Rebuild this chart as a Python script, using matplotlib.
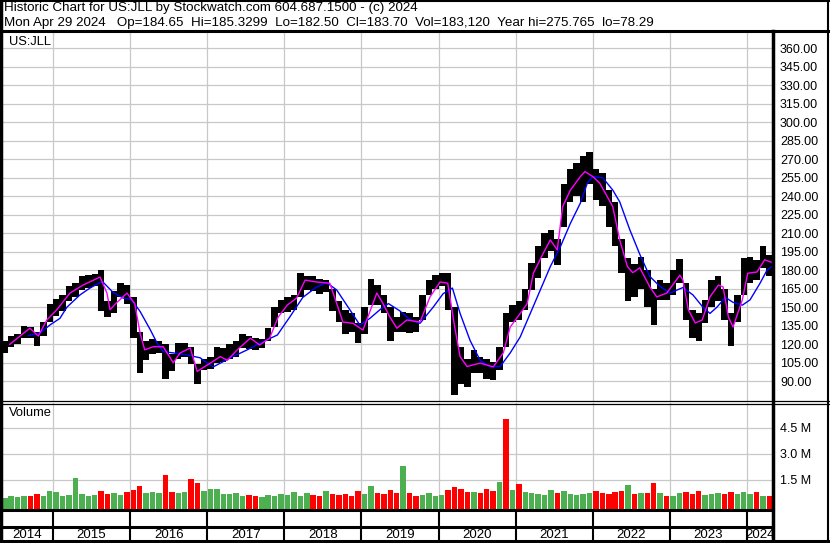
import matplotlib
matplotlib.use('Agg')
import matplotlib.pyplot as plt
import numpy as np
import pandas as pd

plt.rcParams['font.family'] = ['Liberation Sans', 'DejaVu Sans']

# monthly bars, May 2014 .. Apr 2024
months = pd.date_range('2014-05-01', periods=120, freq='MS')

price_lo = [113, 118, 120, 125, 125, 119, 127, 138,
            143, 147, 155, 158, 164, 166, 167, 147, 142, 145, 158, 153,
            125, 97, 107, 112, 113, 92, 98, 108, 110, 104, 88, 99,
            100, 105, 106, 108, 110, 117, 116, 115, 117, 123, 134, 145,
            146, 148, 158, 164, 163, 161, 162, 147, 138, 128, 130, 121,
            128, 152, 152, 145, 123, 130, 130, 129, 130, 140, 160, 165,
            167, 148, 79, 88, 85, 97, 97, 92, 91, 99, 118, 138,
            140, 148, 164, 174, 190, 196, 184, 215, 235, 240, 235, 250,
            237, 232, 215, 200, 178, 155, 158, 165, 150, 136, 156, 156,
            160, 170, 140, 125, 123, 137, 150, 155, 140, 119, 138, 160,
            170, 172, 182, 175]
price_hi = [123, 127, 128, 135, 134, 130, 138, 153,
            157, 160, 167, 170, 175, 176, 177, 180, 155, 163, 170, 168,
            158, 130, 123, 124, 123, 120, 112, 121, 121, 118, 104, 108,
            110, 118, 117, 120, 123, 128, 127, 125, 124, 133, 150, 156,
            158, 160, 178, 175, 175, 173, 172, 165, 155, 148, 145, 137,
            150, 173, 168, 160, 150, 142, 146, 145, 142, 160, 172, 176,
            178, 178, 150, 118, 108, 115, 110, 108, 106, 118, 145, 152,
            155, 165, 186, 200, 210, 213, 205, 250, 262, 267, 273, 276,
            262, 259, 245, 235, 205, 190, 185, 191, 180, 165, 172, 170,
            180, 189, 170, 148, 145, 156, 172, 175, 165, 145, 160, 190,
            191, 188, 200, 192]

# volume in millions, and whether the bar is an up (green) or down (red) bar
volume_m = [0.45, 0.55, 0.5, 0.6, 0.55, 0.7, 0.55, 0.85,
            0.8, 0.6, 0.65, 1.6, 0.7, 0.6, 0.65, 0.85, 0.7, 0.75, 0.65, 0.8,
            0.95, 1.15, 0.75, 0.8, 0.75, 1.8, 0.8, 0.75, 0.8, 1.55, 1.3, 0.85,
            1.0, 1.0, 0.7, 0.7, 0.75, 0.6, 0.65, 0.6, 0.5, 0.65, 0.6, 0.7,
            0.65, 0.8, 0.6, 0.75, 0.65, 0.6, 0.85, 0.7, 0.65, 0.7, 0.6, 0.85,
            0.7, 1.15, 0.75, 0.7, 0.9, 0.75, 2.3, 0.75, 0.6, 0.65, 0.75, 0.6,
            0.65, 0.9, 1.1, 1.0, 0.8, 0.8, 0.75, 1.0, 0.85, 1.4, 5.0, 0.9,
            1.25, 0.8, 0.75, 0.7, 0.65, 0.9, 0.75, 0.85, 0.7, 0.65, 0.7, 0.75,
            0.85, 0.75, 0.7, 0.8, 0.85, 1.2, 0.7, 0.75, 0.75, 1.3, 0.75, 0.55,
            0.6, 0.75, 0.8, 0.7, 0.85, 0.65, 0.7, 0.75, 0.7, 0.8, 0.7, 0.8,
            0.7, 0.8, 0.6, 0.55]
vol_up = [1, 1, 1, 1, 0, 0, 1, 1,
          1, 1, 1, 1, 1, 1, 1, 0, 0, 1, 1, 0,
          0, 0, 1, 1, 1, 0, 0, 1, 1, 0, 0, 1,
          1, 1, 1, 1, 1, 1, 0, 0, 1, 1, 1, 1,
          1, 1, 1, 1, 0, 0, 1, 0, 0, 0, 0, 0,
          1, 1, 0, 0, 0, 0, 1, 0, 0, 1, 1, 1,
          1, 0, 0, 0, 0, 1, 0, 0, 0, 1, 0, 1,
          0, 1, 1, 1, 1, 1, 0, 1, 1, 1, 1, 1,
          0, 0, 0, 0, 0, 1, 0, 1, 0, 0, 1, 0,
          1, 1, 0, 0, 0, 1, 1, 1, 0, 0, 1, 1,
          1, 0, 1, 0]

# short moving average (magenta)
ma_short_t = [2014.44, 2014.70, 2014.81, 2014.92, 2015.05, 2015.22, 2015.39, 2015.61,
              2015.70, 2015.74, 2015.83, 2015.96, 2016.06, 2016.13, 2016.19, 2016.30,
              2016.43, 2016.56, 2016.65, 2016.78, 2016.87, 2017.04, 2017.17, 2017.26,
              2017.39, 2017.56, 2017.68, 2017.81, 2017.92, 2018.04, 2018.16, 2018.27,
              2018.42, 2018.59, 2018.68, 2018.76, 2018.89, 2019.02, 2019.20, 2019.28,
              2019.37, 2019.46, 2019.59, 2019.76, 2019.89, 2020.02, 2020.12, 2020.21,
              2020.28, 2020.37, 2020.54, 2020.71, 2020.84, 2020.93, 2021.06, 2021.15,
              2021.23, 2021.36, 2021.45, 2021.54, 2021.61, 2021.71, 2021.84, 2021.90,
              2022.00, 2022.09, 2022.19, 2022.26, 2022.35, 2022.45, 2022.52, 2022.61,
              2022.74, 2022.83, 2022.96, 2023.13, 2023.17, 2023.24, 2023.33, 2023.42,
              2023.52, 2023.63, 2023.69, 2023.76, 2023.82, 2023.94, 2024.01, 2024.13,
              2024.23, 2024.34]
ma_short = [120, 133, 126.7, 139.7, 148, 161.5, 168, 174.5,
            161.5, 148, 154, 161.5, 153, 129, 115.5, 118,
            118, 105, 113, 117, 98, 104.7, 110, 107,
            115.5, 125, 119.4, 125, 142, 151.8, 157.5, 172,
            170.5, 169.5, 153, 138, 137, 131.5, 161.5, 153,
            142, 133, 139.7, 138, 158.4, 170.5, 169.5, 134,
            110, 102, 104.7, 101.7, 113, 134, 145, 153,
            177.6, 194, 204.6, 196.5, 231.6, 245, 256, 260,
            256, 250.7, 239.5, 231.6, 204.6, 183, 178, 182,
            166.6, 158.4, 161.5, 176, 172, 148, 137.3, 139.7,
            158.4, 168, 166.6, 142, 134, 156, 177.6, 178.6,
            188.5, 186]

# long moving average (blue)
ma_long_t = [2014.68, 2014.83, 2014.96, 2015.09, 2015.18, 2015.35, 2015.48, 2015.64,
             2015.78, 2015.91, 2016.02, 2016.13, 2016.26, 2016.35, 2016.43, 2016.56,
             2016.74, 2016.91, 2016.95, 2017.08, 2017.30, 2017.52, 2017.72, 2017.91,
             2018.07, 2018.24, 2018.42, 2018.55, 2018.68, 2018.85, 2018.98, 2019.11,
             2019.24, 2019.35, 2019.50, 2019.63, 2019.76, 2019.93, 2020.06, 2020.18,
             2020.28, 2020.41, 2020.54, 2020.67, 2020.80, 2020.93, 2021.06, 2021.19,
             2021.32, 2021.45, 2021.58, 2021.71, 2021.84, 2021.93, 2022.00, 2022.13,
             2022.26, 2022.35, 2022.48, 2022.61, 2022.74, 2022.87, 2023.00, 2023.17,
             2023.30, 2023.43, 2023.52, 2023.61, 2023.72, 2023.82, 2023.94, 2024.04,
             2024.17, 2024.26, 2024.34]
ma_long = [127, 129, 135.6, 141, 150, 160, 165.6, 171,
           162, 157.5, 156, 146.6, 132, 121, 114, 113,
           111.3, 109, 107, 101.7, 109, 115.5, 122, 127.5,
           142, 158, 166.5, 170, 164, 148, 135.6, 141,
           148, 153, 147, 140, 137, 150, 161, 165.6,
           145, 123, 107, 101.7, 102, 113, 126, 145,
           164, 183, 199, 218, 234.5, 250.7, 256, 255,
           245, 235.5, 213, 193, 175, 167, 161.5, 166,
           160, 150, 145, 150, 158, 154, 151.7, 156,
           169.5, 180, 184]

price_ticks = [90, 105, 120, 135, 150, 165, 180, 195, 210, 225, 240,
               255, 270, 285, 300, 315, 330, 345, 360]
vol_ticks = [1.5, 3.0, 4.5]
years = [2014, 2015, 2016, 2017, 2018, 2019, 2020, 2021, 2022, 2023, 2024]

header1 = 'Historic Chart for US:JLL by Stockwatch.com 604.687.1500 - (c) 2024'
header2 = ('Mon Apr 29 2024   Op=184.65  Hi=185.3299  Lo=182.50  Cl=183.70  '
           'Vol=183,120  Year hi=275.765  lo=78.29')

t = np.array(months.year + (months.month - 0.5) / 12)
lo = np.array(price_lo)
hi = np.array(price_hi)
vol_colors = np.where(np.array(vol_up) == 1, '#4caf50', '#ff0000')

W, H = 830, 543
fig = plt.figure(figsize=(8.3, 5.43), dpi=100)


def box(x0, y0, x1, y1):
    return [x0 / W, 1 - y1 / H, (x1 - x0) / W, (y1 - y0) / H]


XL = (2014.326, 2024.338)
grid = '#c8c8c8'

# price panel
ax = fig.add_axes(box(1, 31, 773, 401))
ax.bar(t, hi - lo, bottom=lo, width=1 / 12, color='black', linewidth=0, zorder=2)
ax.plot(ma_long_t, ma_long, color='#0000ff', lw=1.0, zorder=3)
ax.plot(ma_short_t, ma_short, color='#ff00ff', lw=1.0, zorder=4)
ax.set_xlim(XL)
ax.set_ylim(74, 374)
ax.set_yticks(price_ticks)
ax.yaxis.tick_right()
ax.yaxis.set_major_formatter('{x:.2f}')
ax.set_xticks(years[1:])
ax.tick_params(axis='both', length=0, labelsize=9, pad=5, labelbottom=False)
ax.grid(color=grid, lw=0.9)
ax.set_axisbelow(True)
for s in ax.spines.values():
    s.set_visible(False)

# volume panel
vax = fig.add_axes(box(1, 403, 773, 510))
vbase = -0.23
vax.bar(t, np.array(volume_m) - vbase, bottom=vbase, width=1 / 12 * 0.85,
        color=vol_colors, linewidth=0, zorder=2)
vax.set_xlim(XL)
vax.set_ylim(vbase, 5.94)
vax.set_yticks(vol_ticks)
vax.set_yticklabels(['%.1f M' % v for v in vol_ticks])
vax.yaxis.tick_right()
vax.set_xticks(years[1:])
vax.tick_params(axis='both', length=0, labelsize=9, pad=5, labelbottom=False)
vax.grid(color=grid, lw=0.9)
vax.set_axisbelow(True)
for s in vax.spines.values():
    s.set_visible(False)

# date strip
dax = fig.add_axes(box(1, 510, 773, 541))
dax.set_xlim(XL)
dax.set_ylim(31, 0)
dax.axis('off')
for y in years[1:]:
    dax.axvline(y, color='black', lw=1.5)
dax.axhline(17, color='black', lw=2.2)
edges = [XL[0]] + years[1:] + [XL[1]]
for i, y in enumerate(years):
    dax.text((edges[i] + edges[i + 1]) / 2, 25.5, str(y), ha='center', va='center', fontsize=9.5)

# frame and header in pixel coordinates
ov = fig.add_axes([0, 0, 1, 1], zorder=10)
ov.set_xlim(0, W)
ov.set_ylim(H, 0)
ov.axis('off')
ov.patch.set_alpha(0)
k = 'black'
ov.plot([1, 1], [0, 542], color=k, lw=2.5)
ov.plot([828, 828], [0, 542], color=k, lw=1.5)
ov.plot([0, 829], [1, 1], color=k, lw=1.5)
ov.plot([0, 829], [541, 541], color=k, lw=2.2)
ov.plot([0, 829], [31, 31], color=k, lw=2.2)
ov.plot([773, 773], [31, 541], color=k, lw=2.5)
ov.plot([0, 829], [401, 401], color=k, lw=0.9)
ov.plot([0, 829], [403.5, 403.5], color=k, lw=0.9)
ov.plot([0, 773], [510, 510], color=k, lw=2.2)
ov.text(4, 8.5, header1, fontsize=9.6, va='center', ha='left')
ov.text(4, 23, header2, fontsize=9.6, va='center', ha='left')
ov.text(9, 42, 'US:JLL', fontsize=9.3, va='center', ha='left')
ov.text(9, 413, 'Volume', fontsize=9.3, va='center', ha='left')

fig.savefig('out.png', dpi=100)
